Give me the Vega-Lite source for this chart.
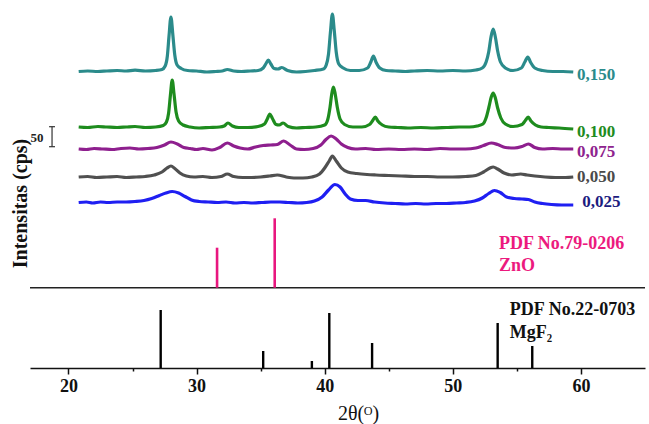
{
  "$schema": "https://vega.github.io/schema/vega-lite/v6.json",
  "width": 615,
  "height": 363,
  "autosize": {"type": "none"},
  "padding": {"left": 30, "top": 5, "right": 4, "bottom": 56},
  "background": "white",
  "config": {"view": {"stroke": null}, "font": "Liberation Serif", "axis": {"grid": false}},
  "datasets": {
    "curves": [
      {"s":"0,150","x":20.8,"y":296.5},{"s":"0,150","x":21.5,"y":297},{"s":"0,150","x":22.3,"y":296.5},{"s":"0,150","x":23,"y":297},{"s":"0,150","x":23.8,"y":297.5},{"s":"0,150","x":24.5,"y":297},{"s":"0,150","x":25.2,"y":297.8},{"s":"0,150","x":26,"y":297},{"s":"0,150","x":26.8,"y":297.5},{"s":"0,150","x":27.3,"y":298.5},{"s":"0,150","x":27.55,"y":302},{"s":"0,150","x":27.72,"y":312},{"s":"0,150","x":27.85,"y":332},{"s":"0,150","x":28.0,"y":351},{"s":"0,150","x":28.15,"y":333},{"s":"0,150","x":28.3,"y":313},{"s":"0,150","x":28.48,"y":303},{"s":"0,150","x":28.8,"y":299.5},{"s":"0,150","x":29.3,"y":297.5},{"s":"0,150","x":30,"y":297},{"s":"0,150","x":30.8,"y":296},{"s":"0,150","x":31.5,"y":296.5},{"s":"0,150","x":32.0,"y":297},{"s":"0,150","x":32.4,"y":298.5},{"s":"0,150","x":32.9,"y":297},{"s":"0,150","x":33.5,"y":296.5},{"s":"0,150","x":34.2,"y":297},{"s":"0,150","x":34.8,"y":297.5},{"s":"0,150","x":35.2,"y":300},{"s":"0,150","x":35.42,"y":304.5},{"s":"0,150","x":35.6,"y":308},{"s":"0,150","x":35.8,"y":304},{"s":"0,150","x":36.05,"y":299.5},{"s":"0,150","x":36.35,"y":299},{"s":"0,150","x":36.65,"y":300.5},{"s":"0,150","x":37.1,"y":297.5},{"s":"0,150","x":37.8,"y":296},{"s":"0,150","x":38.5,"y":296.5},{"s":"0,150","x":39.2,"y":297.5},{"s":"0,150","x":39.9,"y":299},{"s":"0,150","x":40.12,"y":303},{"s":"0,150","x":40.3,"y":314},{"s":"0,150","x":40.45,"y":336},{"s":"0,150","x":40.6,"y":354},{"s":"0,150","x":40.75,"y":337},{"s":"0,150","x":40.9,"y":316},{"s":"0,150","x":41.1,"y":304},{"s":"0,150","x":41.45,"y":300},{"s":"0,150","x":42,"y":297.5},{"s":"0,150","x":42.7,"y":297.5},{"s":"0,150","x":43.35,"y":300},{"s":"0,150","x":43.6,"y":306},{"s":"0,150","x":43.8,"y":312},{"s":"0,150","x":44.0,"y":306},{"s":"0,150","x":44.3,"y":300},{"s":"0,150","x":44.8,"y":297.5},{"s":"0,150","x":45.5,"y":297},{"s":"0,150","x":46.3,"y":296.5},{"s":"0,150","x":47,"y":297},{"s":"0,150","x":48,"y":297.5},{"s":"0,150","x":49,"y":297},{"s":"0,150","x":50,"y":297.5},{"s":"0,150","x":51,"y":297},{"s":"0,150","x":51.8,"y":298},{"s":"0,150","x":52.3,"y":300},{"s":"0,150","x":52.6,"y":306},{"s":"0,150","x":52.8,"y":316},{"s":"0,150","x":52.98,"y":331},{"s":"0,150","x":53.15,"y":339},{"s":"0,150","x":53.32,"y":331},{"s":"0,150","x":53.5,"y":317},{"s":"0,150","x":53.72,"y":306},{"s":"0,150","x":54.1,"y":300},{"s":"0,150","x":54.7,"y":297.5},{"s":"0,150","x":55.35,"y":300},{"s":"0,150","x":55.62,"y":306},{"s":"0,150","x":55.85,"y":311},{"s":"0,150","x":56.08,"y":305.5},{"s":"0,150","x":56.4,"y":300},{"s":"0,150","x":57,"y":297.5},{"s":"0,150","x":57.8,"y":296.5},{"s":"0,150","x":58.6,"y":296.5},{"s":"0,150","x":59.4,"y":296},

      {"s":"0,100","x":20.8,"y":241},{"s":"0,100","x":21.5,"y":240.5},{"s":"0,100","x":22.3,"y":241.5},{"s":"0,100","x":23,"y":241},{"s":"0,100","x":23.8,"y":240.5},{"s":"0,100","x":24.5,"y":241},{"s":"0,100","x":25.2,"y":241.5},{"s":"0,100","x":26,"y":240.5},{"s":"0,100","x":26.8,"y":241},{"s":"0,100","x":27.4,"y":242.5},{"s":"0,100","x":27.65,"y":246},{"s":"0,100","x":27.82,"y":255},{"s":"0,100","x":27.96,"y":273},{"s":"0,100","x":28.1,"y":288},{"s":"0,100","x":28.24,"y":274},{"s":"0,100","x":28.4,"y":256},{"s":"0,100","x":28.6,"y":247},{"s":"0,100","x":28.95,"y":243},{"s":"0,100","x":29.5,"y":241},{"s":"0,100","x":30.2,"y":240},{"s":"0,100","x":31,"y":240.5},{"s":"0,100","x":31.8,"y":241},{"s":"0,100","x":32.15,"y":242},{"s":"0,100","x":32.45,"y":245},{"s":"0,100","x":32.8,"y":242},{"s":"0,100","x":33.3,"y":240.5},{"s":"0,100","x":34,"y":240.5},{"s":"0,100","x":34.8,"y":241.5},{"s":"0,100","x":35.3,"y":244},{"s":"0,100","x":35.52,"y":249},{"s":"0,100","x":35.72,"y":254},{"s":"0,100","x":35.92,"y":249.5},{"s":"0,100","x":36.2,"y":243.5},{"s":"0,100","x":36.45,"y":243},{"s":"0,100","x":36.75,"y":245},{"s":"0,100","x":37.15,"y":241.5},{"s":"0,100","x":37.8,"y":240},{"s":"0,100","x":38.5,"y":240.5},{"s":"0,100","x":39.3,"y":241},{"s":"0,100","x":40.0,"y":243},{"s":"0,100","x":40.25,"y":249},{"s":"0,100","x":40.42,"y":261},{"s":"0,100","x":40.55,"y":274},{"s":"0,100","x":40.68,"y":281},{"s":"0,100","x":40.82,"y":274},{"s":"0,100","x":40.98,"y":261},{"s":"0,100","x":41.2,"y":249},{"s":"0,100","x":41.55,"y":243.5},{"s":"0,100","x":42.2,"y":241},{"s":"0,100","x":42.9,"y":241},{"s":"0,100","x":43.5,"y":243.5},{"s":"0,100","x":43.75,"y":247.5},{"s":"0,100","x":43.95,"y":251},{"s":"0,100","x":44.15,"y":247},{"s":"0,100","x":44.5,"y":243},{"s":"0,100","x":45,"y":241},{"s":"0,100","x":45.7,"y":240.5},{"s":"0,100","x":46.5,"y":240},{"s":"0,100","x":47.5,"y":240.5},{"s":"0,100","x":48.5,"y":240},{"s":"0,100","x":49.5,"y":240.5},{"s":"0,100","x":50.5,"y":241},{"s":"0,100","x":51.3,"y":241},{"s":"0,100","x":51.9,"y":242},{"s":"0,100","x":52.35,"y":244},{"s":"0,100","x":52.62,"y":251},{"s":"0,100","x":52.82,"y":261},{"s":"0,100","x":53.0,"y":271},{"s":"0,100","x":53.15,"y":275},{"s":"0,100","x":53.3,"y":271},{"s":"0,100","x":53.5,"y":260},{"s":"0,100","x":53.75,"y":250},{"s":"0,100","x":54.1,"y":244},{"s":"0,100","x":54.7,"y":241.5},{"s":"0,100","x":55.4,"y":243.5},{"s":"0,100","x":55.66,"y":247.5},{"s":"0,100","x":55.88,"y":251},{"s":"0,100","x":56.1,"y":247},{"s":"0,100","x":56.45,"y":243},{"s":"0,100","x":56.9,"y":241},{"s":"0,100","x":57.5,"y":240.5},{"s":"0,100","x":58.3,"y":240},{"s":"0,100","x":59.4,"y":239},

      {"s":"0,075","x":20.8,"y":219},{"s":"0,075","x":21.4,"y":218.5},{"s":"0,075","x":22,"y":219.5},{"s":"0,075","x":22.7,"y":219},{"s":"0,075","x":23.4,"y":218.5},{"s":"0,075","x":24.1,"y":219.5},{"s":"0,075","x":24.8,"y":220},{"s":"0,075","x":25.5,"y":219},{"s":"0,075","x":26.2,"y":219.5},{"s":"0,075","x":26.9,"y":220.5},{"s":"0,075","x":27.5,"y":223},{"s":"0,075","x":28.0,"y":226},{"s":"0,075","x":28.5,"y":224},{"s":"0,075","x":29.0,"y":220.5},{"s":"0,075","x":29.5,"y":219.5},{"s":"0,075","x":30,"y":218.5},{"s":"0,075","x":30.5,"y":219.5},{"s":"0,075","x":31.2,"y":218},{"s":"0,075","x":31.8,"y":220.5},{"s":"0,075","x":32.4,"y":225},{"s":"0,075","x":32.9,"y":222},{"s":"0,075","x":33.4,"y":220},{"s":"0,075","x":34,"y":219},{"s":"0,075","x":34.6,"y":221},{"s":"0,075","x":35.2,"y":222.5},{"s":"0,075","x":35.8,"y":223},{"s":"0,075","x":36.3,"y":223.5},{"s":"0,075","x":36.8,"y":227},{"s":"0,075","x":37.3,"y":223},{"s":"0,075","x":37.8,"y":219},{"s":"0,075","x":38.4,"y":218.5},{"s":"0,075","x":39.1,"y":219.5},{"s":"0,075","x":39.7,"y":223},{"s":"0,075","x":40.1,"y":228.5},{"s":"0,075","x":40.5,"y":232},{"s":"0,075","x":40.9,"y":229},{"s":"0,075","x":41.3,"y":224},{"s":"0,075","x":41.8,"y":220.5},{"s":"0,075","x":42.4,"y":219},{"s":"0,075","x":43.2,"y":219.5},{"s":"0,075","x":44,"y":218.5},{"s":"0,075","x":45,"y":219},{"s":"0,075","x":46,"y":218.5},{"s":"0,075","x":47,"y":219},{"s":"0,075","x":48,"y":218.5},{"s":"0,075","x":49,"y":219.5},{"s":"0,075","x":50,"y":219},{"s":"0,075","x":51,"y":219},{"s":"0,075","x":51.8,"y":220},{"s":"0,075","x":52.4,"y":222.5},{"s":"0,075","x":53.0,"y":225},{"s":"0,075","x":53.5,"y":223.5},{"s":"0,075","x":54.1,"y":220.5},{"s":"0,075","x":54.8,"y":220},{"s":"0,075","x":55.4,"y":221.5},{"s":"0,075","x":55.9,"y":224},{"s":"0,075","x":56.4,"y":220.5},{"s":"0,075","x":57,"y":219},{"s":"0,075","x":57.8,"y":219.5},{"s":"0,075","x":58.6,"y":219},{"s":"0,075","x":59.4,"y":219},

      {"s":"0,050","x":20.8,"y":191},{"s":"0,050","x":21.5,"y":191.5},{"s":"0,050","x":22.2,"y":190.5},{"s":"0,050","x":23,"y":191},{"s":"0,050","x":23.8,"y":191.5},{"s":"0,050","x":24.5,"y":190.5},{"s":"0,050","x":25.3,"y":191},{"s":"0,050","x":26,"y":191.5},{"s":"0,050","x":26.7,"y":193},{"s":"0,050","x":27.3,"y":196},{"s":"0,050","x":27.7,"y":200},{"s":"0,050","x":28.0,"y":202},{"s":"0,050","x":28.3,"y":199.5},{"s":"0,050","x":28.7,"y":195},{"s":"0,050","x":29.2,"y":192},{"s":"0,050","x":29.8,"y":191},{"s":"0,050","x":30.5,"y":191.5},{"s":"0,050","x":31.2,"y":190.5},{"s":"0,050","x":31.9,"y":191.5},{"s":"0,050","x":32.4,"y":194},{"s":"0,050","x":32.9,"y":191.5},{"s":"0,050","x":33.6,"y":190.5},{"s":"0,050","x":34.3,"y":190.5},{"s":"0,050","x":35,"y":191},{"s":"0,050","x":35.7,"y":192},{"s":"0,050","x":36.3,"y":193},{"s":"0,050","x":37,"y":191},{"s":"0,050","x":37.6,"y":190},{"s":"0,050","x":38.3,"y":190},{"s":"0,050","x":39,"y":191},{"s":"0,050","x":39.6,"y":194},{"s":"0,050","x":40.0,"y":200},{"s":"0,050","x":40.35,"y":207},{"s":"0,050","x":40.6,"y":212},{"s":"0,050","x":40.9,"y":207},{"s":"0,050","x":41.3,"y":200},{"s":"0,050","x":41.8,"y":196},{"s":"0,050","x":42.5,"y":194.5},{"s":"0,050","x":43.3,"y":193.5},{"s":"0,050","x":44,"y":193},{"s":"0,050","x":45,"y":192.5},{"s":"0,050","x":46,"y":192},{"s":"0,050","x":47,"y":191.5},{"s":"0,050","x":48,"y":191.5},{"s":"0,050","x":49,"y":191},{"s":"0,050","x":50,"y":191},{"s":"0,050","x":51,"y":191.5},{"s":"0,050","x":51.8,"y":192.5},{"s":"0,050","x":52.4,"y":196},{"s":"0,050","x":52.9,"y":200},{"s":"0,050","x":53.15,"y":201},{"s":"0,050","x":53.5,"y":199},{"s":"0,050","x":54.0,"y":195},{"s":"0,050","x":54.6,"y":193},{"s":"0,050","x":55.3,"y":194},{"s":"0,050","x":55.8,"y":193},{"s":"0,050","x":56.4,"y":192},{"s":"0,050","x":57.2,"y":191},{"s":"0,050","x":58,"y":190.5},{"s":"0,050","x":58.8,"y":190.5},{"s":"0,050","x":59.4,"y":191},

      {"s":"0,025","x":20.8,"y":165.5},{"s":"0,025","x":21.4,"y":166},{"s":"0,025","x":21.9,"y":165},{"s":"0,025","x":22.5,"y":166},{"s":"0,025","x":23.1,"y":165.5},{"s":"0,025","x":23.8,"y":166},{"s":"0,025","x":24.5,"y":166},{"s":"0,025","x":25.2,"y":166.5},{"s":"0,025","x":25.9,"y":167.5},{"s":"0,025","x":26.5,"y":169.5},{"s":"0,025","x":27.1,"y":172.5},{"s":"0,025","x":27.6,"y":175},{"s":"0,025","x":28.1,"y":176.5},{"s":"0,025","x":28.6,"y":175},{"s":"0,025","x":29.1,"y":171.5},{"s":"0,025","x":29.6,"y":168},{"s":"0,025","x":30.2,"y":166.5},{"s":"0,025","x":30.9,"y":166},{"s":"0,025","x":31.6,"y":165.5},{"s":"0,025","x":32.3,"y":166},{"s":"0,025","x":33,"y":165},{"s":"0,025","x":33.7,"y":165.5},{"s":"0,025","x":34.4,"y":165},{"s":"0,025","x":35.1,"y":165.5},{"s":"0,025","x":35.8,"y":166},{"s":"0,025","x":36.5,"y":166},{"s":"0,025","x":37.2,"y":165.5},{"s":"0,025","x":37.9,"y":165},{"s":"0,025","x":38.6,"y":165.5},{"s":"0,025","x":39.2,"y":167},{"s":"0,025","x":39.8,"y":171},{"s":"0,025","x":40.3,"y":178},{"s":"0,025","x":40.8,"y":183.5},{"s":"0,025","x":41.2,"y":181},{"s":"0,025","x":41.6,"y":174},{"s":"0,025","x":42.0,"y":169},{"s":"0,025","x":42.6,"y":167.5},{"s":"0,025","x":43.2,"y":167.5},{"s":"0,025","x":43.9,"y":166},{"s":"0,025","x":44.7,"y":165},{"s":"0,025","x":45.5,"y":164.5},{"s":"0,025","x":46.3,"y":164},{"s":"0,025","x":47.1,"y":164.5},{"s":"0,025","x":47.9,"y":164},{"s":"0,025","x":48.7,"y":164.5},{"s":"0,025","x":49.5,"y":164.5},{"s":"0,025","x":50.3,"y":165},{"s":"0,025","x":51.0,"y":165.5},{"s":"0,025","x":51.7,"y":167},{"s":"0,025","x":52.3,"y":170},{"s":"0,025","x":52.8,"y":174.5},{"s":"0,025","x":53.25,"y":177.5},{"s":"0,025","x":53.7,"y":175.5},{"s":"0,025","x":54.2,"y":171},{"s":"0,025","x":54.8,"y":169.5},{"s":"0,025","x":55.4,"y":169},{"s":"0,025","x":55.9,"y":168.5},{"s":"0,025","x":56.4,"y":166},{"s":"0,025","x":57.0,"y":164.5},{"s":"0,025","x":57.7,"y":163.5},{"s":"0,025","x":58.5,"y":163},{"s":"0,025","x":59.4,"y":163}
    ],
    "labels": [
      {"s":"0,150","x":59.7,"y":293},
      {"s":"0,100","x":59.7,"y":236},
      {"s":"0,075","x":59.7,"y":216},
      {"s":"0,050","x":59.7,"y":191},
      {"s":"0,025","x":60.1,"y":166}
    ],
    "zno": [{"x":31.6,"y0":80.3,"y":120.3},{"x":36.1,"y0":80.3,"y":149.7}],
    "mgf2": [
      {"x":27.2,"y0":0,"y":58},{"x":35.2,"y0":0,"y":17},{"x":39.0,"y0":0,"y":7},{"x":40.36,"y0":0,"y":55},{"x":43.7,"y0":0,"y":25},{"x":53.5,"y0":0,"y":45},{"x":56.2,"y0":0,"y":22}
    ]
  },
  "layer": [
    {
      "data": {"name": "curves"},
      "mark": {"type": "line", "interpolate": "monotone", "strokeWidth": 3.2},
      "encoding": {
        "x": {"field": "x", "type": "quantitative", "scale": {"domain": [17, 65], "nice": false, "zero": false},
          "axis": {"values": [20,25,30,35,40,45,50,55,60], "labelExpr": "datum.value % 10 === 0 ? datum.label : ''",
            "tickSize": {"condition": {"test": "datum.value % 10 === 0", "value": 6}, "value": 3},
            "tickColor": "#111", "tickWidth": 1.5, "domainColor": "#111", "domainWidth": 1.6,
            "labelFont": "Liberation Serif", "labelFontWeight": "bold", "labelFontSize": 18, "labelColor": "#111", "labelPadding": 3,
            "title": "2θ(ᴼ)", "titleFont": "Liberation Serif", "titleFontWeight": "normal", "titleFontSize": 20, "titleColor": "#111",
            "titleX": 328, "titleY": 45, "titleBaseline": "middle"}},
        "y": {"field": "y", "type": "quantitative", "scale": {"domain": [0, 363], "nice": false, "zero": false},
          "axis": {"domain": false, "ticks": false, "labels": false, "title": "Intensitas (cps)",
            "titleFont": "Liberation Serif", "titleFontWeight": "bold", "titleFontSize": 20, "titleColor": "#111",
            "titleX": -4, "titleY": 198, "titleBaseline": "alphabetic", "titleAlign": "center", "titleAngle": 270}},
        "color": {"field": "s", "type": "nominal", "legend": null,
          "scale": {"domain": ["0,150","0,100","0,075","0,050","0,025"], "range": ["#2b8b8b","#1e8c1e","#8e1f8e","#505050","#1f1ff2"]}}
      }
    },
    {
      "data": {"name": "labels"},
      "mark": {"type": "text", "align": "left", "baseline": "middle", "font": "Liberation Serif", "fontWeight": "bold", "fontSize": 17},
      "encoding": {
        "x": {"field": "x", "type": "quantitative"},
        "y": {"field": "y", "type": "quantitative"},
        "text": {"field": "s"},
        "color": {"field": "s", "type": "nominal", "legend": null,
          "scale": {"domain": ["0,150","0,100","0,075","0,050","0,025"], "range": ["#2b8b8b","#1e8c1e","#8e238e","#4a4a4a","#1c1c80"]}}
      }
    },
    {
      "data": {"values": [{"y": 80.3}]},
      "mark": {"type": "rule", "color": "#222", "strokeWidth": 1.6},
      "encoding": {"y": {"field": "y", "type": "quantitative"}}
    },
    {
      "data": {"name": "zno"},
      "mark": {"type": "rule", "color": "#e8177f", "strokeWidth": 2.6},
      "encoding": {
        "x": {"field": "x", "type": "quantitative"},
        "y": {"field": "y0", "type": "quantitative"},
        "y2": {"field": "y"}
      }
    },
    {
      "data": {"name": "mgf2"},
      "mark": {"type": "rule", "color": "#000", "strokeWidth": 2.4},
      "encoding": {
        "x": {"field": "x", "type": "quantitative"},
        "y": {"field": "y0", "type": "quantitative"},
        "y2": {"field": "y"}
      }
    },
    {
      "data": {"values": [{"x": 18.72, "y": 221.3, "y2": 241.3}]},
      "mark": {"type": "rule", "color": "#333", "strokeWidth": 1.2},
      "encoding": {
        "x": {"field": "x", "type": "quantitative"},
        "y": {"field": "y", "type": "quantitative"},
        "y2": {"field": "y2"}
      }
    },
    {
      "data": {"values": [{"x": 18.49, "x2": 18.95, "y": 221.3}, {"x": 18.49, "x2": 18.95, "y": 241.3}]},
      "mark": {"type": "rule", "color": "#333", "strokeWidth": 1.2},
      "encoding": {
        "x": {"field": "x", "type": "quantitative"},
        "x2": {"field": "x2"},
        "y": {"field": "y", "type": "quantitative"}
      }
    },
    {
      "data": {"values": [{"t": "50", "x": 18.05, "y": 230}]},
      "mark": {"type": "text", "align": "right", "baseline": "middle", "font": "Liberation Serif", "fontWeight": "bold", "fontSize": 13, "color": "#222"},
      "encoding": {
        "x": {"field": "x", "type": "quantitative"},
        "y": {"field": "y", "type": "quantitative"},
        "text": {"field": "t"}
      }
    },
    {
      "data": {"values": [{"t": "PDF No.79-0206", "x": 53.6, "y": 124}, {"t": "ZnO", "x": 53.6, "y": 102}]},
      "mark": {"type": "text", "align": "left", "baseline": "middle", "font": "Liberation Serif", "fontWeight": "bold", "fontSize": 18, "color": "#ec1a7e"},
      "encoding": {
        "x": {"field": "x", "type": "quantitative"},
        "y": {"field": "y", "type": "quantitative"},
        "text": {"field": "t"}
      }
    },
    {
      "data": {"values": [{"t": "PDF No.22-0703", "x": 54.45, "y": 58}, {"t": "MgF₂", "x": 54.45, "y": 35}]},
      "mark": {"type": "text", "align": "left", "baseline": "middle", "font": "Liberation Serif", "fontWeight": "bold", "fontSize": 18, "color": "#111"},
      "encoding": {
        "x": {"field": "x", "type": "quantitative"},
        "y": {"field": "y", "type": "quantitative"},
        "text": {"field": "t"}
      }
    }
  ],
  "resolve": {"scale": {"color": "independent"}}
}
